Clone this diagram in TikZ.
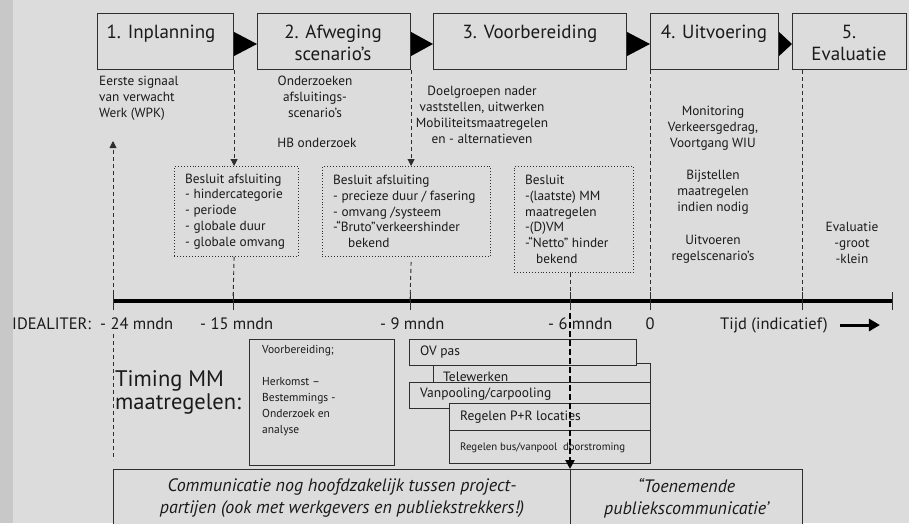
\documentclass[tikz,border=0pt]{standalone}
\usepackage{fontspec}
\setmainfont{PT Sans}
\usetikzlibrary{arrows.meta,calc}
\definecolor{paper}{HTML}{DCDCDC}
\definecolor{sidebar}{HTML}{C8C8C8}
\definecolor{ink}{HTML}{2E2E2E}
\definecolor{txt}{HTML}{1A1A1A}
\newcommand\dgHead{\fontsize{19}{22}\selectfont}
\newcommand\dgNote{\fontsize{13.3}{15.8}\selectfont}
\newcommand\dgLabel{\fontsize{16.5}{20}\selectfont}
\newcommand\dgTiming{\fontsize{22.5}{23}\selectfont}
\newcommand\dgSmall{\fontsize{11.5}{16}\selectfont}
\newcommand\dgBar{\fontsize{13.5}{16}\selectfont}
\newcommand\dgBus{\fontsize{10.8}{13}\selectfont}
\newcommand\dgComm{\fontsize{18}{22}\selectfont\itshape}
\begin{document}
\begin{tikzpicture}[x=1pt,y=-1pt,
  every node/.style={text=txt},
  phasebox/.style={draw=ink,line width=1.1pt,fill=paper,minimum width=#1,
    minimum height=56pt,anchor=north west,inner sep=0pt},
  dotbox/.style 2 args={draw=ink,dotted,line width=0.9pt,minimum width=#1,
    minimum height=#2,anchor=north west,inner sep=0pt},
  barbox/.style 2 args={draw=ink,line width=0.9pt,fill=paper,minimum width=#1,
    minimum height=#2,anchor=north west,inner sep=0pt},
  commbox/.style={draw=ink,line width=1.1pt,fill=paper,minimum width=#1,
    minimum height=57pt,anchor=north west,inner sep=0pt,align=center,font=\dgComm},
  head/.style={anchor=base,inner sep=0pt,font=\dgHead},
  note/.style={inner sep=0pt,align=center,font=\dgNote},
  boxtxt/.style={inner sep=0pt,align=left,anchor=west,font=\dgNote},
  lbl/.style={anchor=base west,inner sep=0pt,font=\dgLabel},
  bartxt/.style={anchor=west,inner sep=0pt,font=\dgBar},
  dsh/.style={draw=ink,line width=0.9pt,dash pattern=on 4pt off 3pt},
  tip/.style={-{Triangle[length=7pt,width=7pt]}},
  tick/.style={draw=ink,line width=0.9pt}]
\useasboundingbox (0,0) rectangle (909,523);
\fill[paper] (0,0) rectangle (909,523);
\fill[sidebar] (0,0) rectangle (13,523);

% phase boxes along the top
\node[phasebox=136] (p1) at (97,13) {};
\node[phasebox=153] (p2) at (257,13) {};
\node[phasebox=193] (p3) at (433,13) {};
\node[phasebox=128] (p4) at (650,13) {};
\node[phasebox=114] (p5) at (792,13) {};
\node[head] (h1) at (161,38) {1. Inplanning};
\node[head] (h2a) at (333,38) {2. Afweging};
\node[head] (h2b) at (333,60) {scenario's};
\node[head] (h3) at (530,38) {3. Voorbereiding};
\node[head] (h4) at (714,38) {4. Uitvoering};
\node[head] (h5a) at (849,38) {5.};
\node[head] (h5b) at (849,60) {Evaluatie};
\foreach \a/\b in {p1/p2,p2/p3,p3/p4,p4/p5}
  \fill[black] ($(\a.north east)+(0,19)$) -- ($(\a.north east)+(0,43)$)
    -- ($(\b.north west)+(0,31)$) -- cycle;

% notes under the phases
\node[note,anchor=north west,align=left] (n1) at (99,76) {Eerste signaal\\van verwacht\\Werk (WPK)};
\node[note] (n2) at (315,97) {Onderzoeken\\afsluitings-\\scenario's};
\node[note] (n2b) at (317,143) {HB onderzoek};
\node[note] (n3) at (482,115) {Doelgroepen nader\\vaststellen, uitwerken\\Mobiliteitsmaatregelen\\en - alternatieven};
\node[note] (n4) at (713,128) {Monitoring\\Verkeersgedrag,\\Voortgang WIU};
\node[note] (n4b) at (713,192) {Bijstellen\\maatregelen\\indien nodig};
\node[note] (n4c) at (713,249) {Uitvoeren\\regelscenario's};
\node[note] (n5) at (852,243) {Evaluatie\\-groot\\-klein};

% decision boxes
\node[dotbox={124}{90}] (bA) at (174,166) {};
\node[boxtxt] (bAt) at ($(bA.west)+(11,0)$) {Besluit afsluiting\\- hindercategorie\\- periode\\- globale duur\\- globale omvang};
\node[dotbox={168}{90}] (bB) at (322,166) {};
\node[boxtxt] (bBt) at ($(bB.west)+(11,0)$) {Besluit afsluiting\\- precieze duur / fasering\\- omvang /systeem\\-“Bruto”verkeershinder\\\hspace*{15pt}bekend};
\node[dotbox={119}{106}] (bC) at (514,166) {};
\node[boxtxt] (bCt) at ($(bC.west)+(11,0)$) {Besluit\\-(laatste) MM\\maatregelen\\-(D)VM\\-“Netto” hinder\\\hspace*{11pt}bekend};

% time axis
\coordinate (t24) at (113,301);
\coordinate (t15) at (233,301);
\coordinate (t9) at (410,301);
\coordinate (t6) at (570,301);
\coordinate (t0) at (650,301);
\coordinate (t5) at (802,301);
\coordinate (tend) at (892,301);
\draw[black,line width=4pt] (t24) -- (tend);
\foreach \t in {t24,t15,t9,t6,t0,t5,tend}
  \draw[tick] ($(\t)+(0,-9)$) -- ($(\t)+(0,9)$);

% dashed guides
\coordinate (sig) at (113,141);
\draw[dsh,tip] (t24) -- (sig);
\draw[dsh,tip] (p1.south east) -- (p1.south east |- bA.north);
\draw[dsh] (p1.south east |- bA.south) -- (t15);
\draw[dsh,tip] (p2.south east) -- (p2.south east |- bB.north);
\draw[dsh] ($(p2.south east |- bB.south)+(0,5)$) -- (t9);
\draw[dsh] (t6 |- bC.south) -- (t6);
\draw[dsh] (p4.south west) -- (t0);
\draw[dsh] (t5 |- p5.south) -- (t5);
\coordinate (low1) at (113,334);
\coordinate (low2) at (113,460);
\draw[dsh] (low1) -- (low2);

% axis labels
\node[lbl] (idl) at (12,329) {IDEALITER:};
\node[lbl] (l24) at (100,329) {- 24 mndn};
\node[lbl] (l15) at (200,329) {- 15 mndn};
\node[lbl] (l9) at (380,329) {- 9 mndn};
\node[lbl] (l6) at (548,329) {- 6 mndn};
\node[lbl,anchor=base] (l0) at (650,329) {0};
\node[lbl] (tijd) at (720,329) {Tijd (indicatief)};
\draw[black,line width=3pt,-{Triangle[length=11pt,width=12pt]}]
  ($(tijd.base east)+(12,-4)$) -- ++(40,0);

% timing of mobility measures
\node[lbl,font=\dgTiming] (tm1) at (115,386) {Timing MM};
\node[lbl,font=\dgTiming] (tm2) at (115,409) {maatregelen:};
\node[barbox={145}{126}] (vb) at (249,339) {};
\node[anchor=north west,inner sep=0pt,align=left,font=\dgSmall] (vbt) at (262,345)
  {Voorbereiding;\\\mbox{}\\Herkomst –\\Bestemmings -\\Onderzoek en\\analyse};
\node[barbox={217}{32}] (tw) at (433,363) {};
\node[bartxt,anchor=base west] (twt) at (443,381) {Telewerken};
\node[barbox={227}{26}] (ov) at (409,339) {};
\node[bartxt] (ovt) at ($(ov.west)+(11,0)$) {OV pas};
\node[barbox={241}{26}] (vp) at (409,382) {};
\node[bartxt] (vpt) at ($(vp.west)+(11,-1)$) {Vanpooling/carpooling};
\node[barbox={201}{27}] (pr) at (449,403) {};
\node[bartxt] (prt) at ($(pr.west)+(11,0)$) {Regelen P+R locaties};
\node[barbox={201}{33}] (bus) at (449,430) {};
\node[bartxt,font=\dgBus] (bust) at ($(bus.west)+(11,1)$) {Regelen bus/vanpool\ \ doorstroming};

% communication
\node[commbox=457] (cl) at (113,469) {Communicatie nog hoofdzakelijk tussen project-\\partijen (ook met werkgevers en publiekstrekkers!)};
\node[commbox=232] (cr) at (570,469) {“Toenemende\\publiekscommunicatie'};
\draw[draw=black,line width=2.2pt,dash pattern=on 6pt off 3pt,
  -{Triangle[length=9pt,width=9pt]}] ($(t6)+(0,12)$) -- (cr.north west);
\end{tikzpicture}
\end{document}
